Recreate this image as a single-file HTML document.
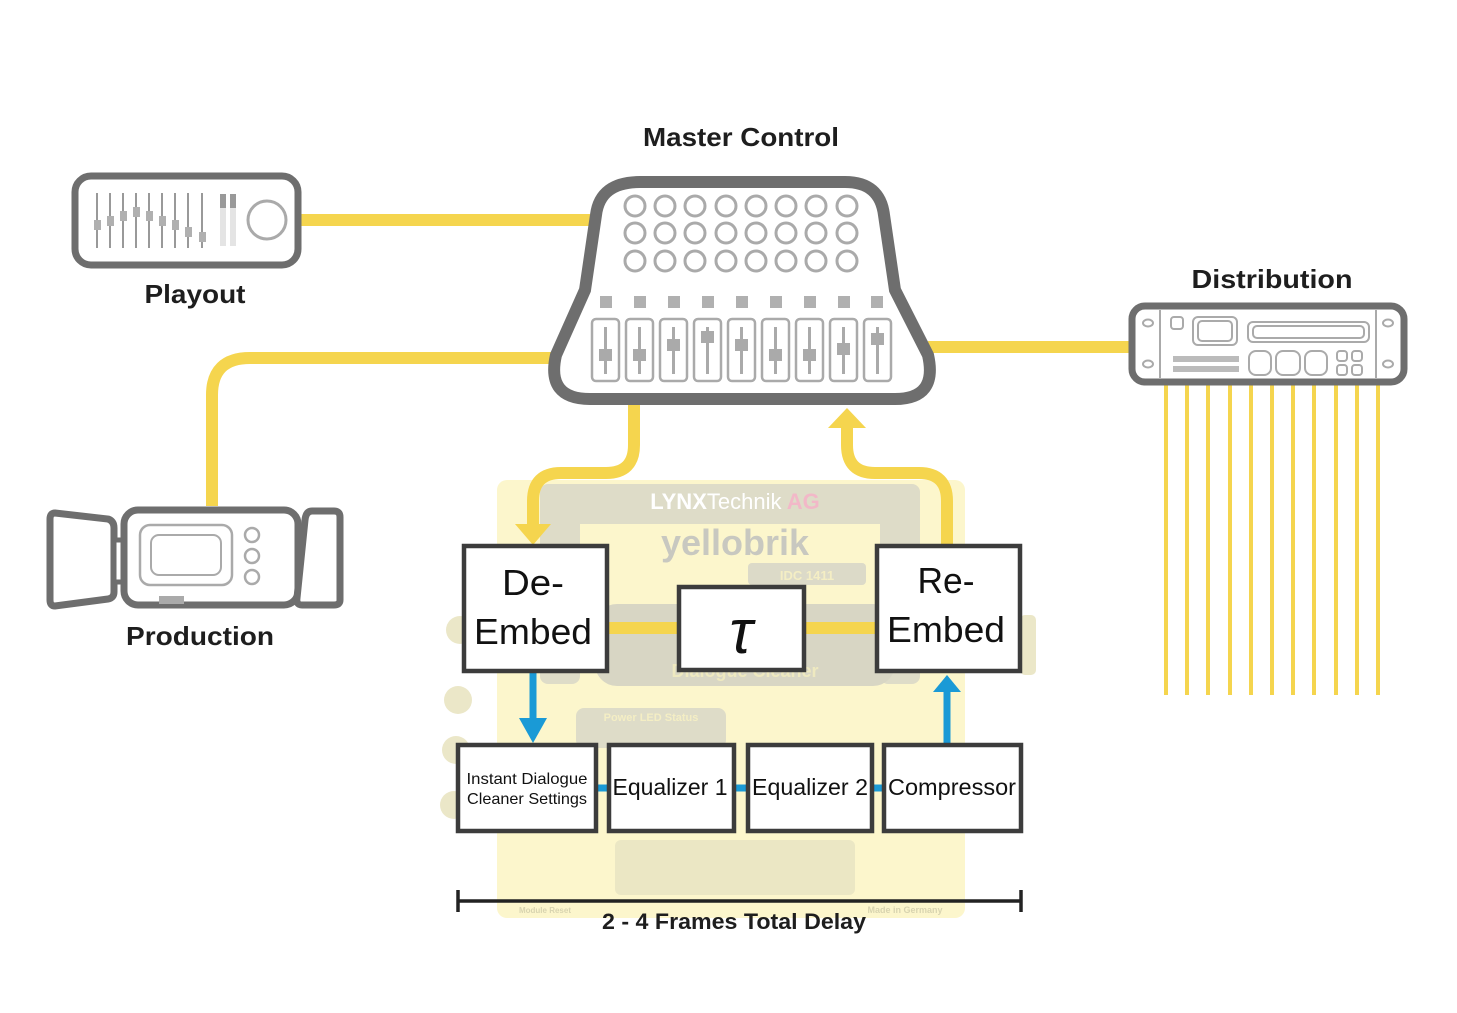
<!DOCTYPE html>
<html><head><meta charset="utf-8"><style>
html,body{margin:0;padding:0;background:#fff;}
svg{display:block;}
text{font-family:"Liberation Sans",sans-serif;}
</style></head><body>
<svg width="1457" height="1013" viewBox="0 0 1457 1013" xmlns="http://www.w3.org/2000/svg">
<!-- yellobrik faded background -->
<g>
<rect x="497" y="480" width="468" height="438" rx="10" fill="#fcf6cc"/>
<rect x="540" y="484" width="380" height="40" rx="10" fill="#dedcc8"/>
<rect x="540" y="484" width="40" height="200" rx="8" fill="#dedcc8"/>
<rect x="880" y="484" width="40" height="200" rx="8" fill="#dedcc8"/>
<text x="735" y="509" font-size="22" font-weight="bold" fill="#fff" text-anchor="middle">LYNX<tspan font-weight="normal">Technik</tspan> <tspan fill="#f2b8c8">AG</tspan></text>
<text x="735" y="555" font-size="36" font-weight="bold" fill="#c8c8c0" text-anchor="middle">yellobrik</text>
<rect x="748" y="563" width="118" height="22" rx="4" fill="#dcdac8"/>
<text x="807" y="580" font-size="13" font-weight="bold" fill="#f4eec4" text-anchor="middle">IDC 1411</text>
<rect x="595" y="604" width="300" height="82" rx="22" fill="#d8d6c4"/>
<text x="745" y="677" font-size="18" font-weight="bold" fill="#eee9c0" text-anchor="middle">Dialogue Cleaner</text>
<rect x="576" y="708" width="150" height="40" rx="8" fill="#dedcc8"/>
<text x="651" y="721" font-size="11" font-weight="bold" fill="#f4eec4" text-anchor="middle">Power LED Status</text>
<g fill="#ebe7c8">
<circle cx="460" cy="630" r="14"/><circle cx="458" cy="700" r="14"/><circle cx="456" cy="750" r="14"/><circle cx="454" cy="805" r="14"/><rect x="1020" y="615" width="16" height="60" rx="5"/>
</g>
<rect x="615" y="840" width="240" height="55" rx="6" fill="#ebe7c4"/>
<text x="905" y="913" font-size="9" font-weight="bold" fill="#d8d4b0" text-anchor="middle">Made in Germany</text>
<text x="545" y="913" font-size="8" font-weight="bold" fill="#d8d4b0" text-anchor="middle">Module Reset</text>
</g>

<!-- yellow connections -->
<g fill="none" stroke="#f5d54e" stroke-width="12">
<line x1="300" y1="220" x2="600" y2="220"/>
<path d="M212 506 L212 395 Q212 358 250 358 L555 358"/>
<line x1="928" y1="347" x2="1132" y2="347"/>
<path d="M634 404 L634 445 Q634 473 606 473 L561 473 Q533 473 533 501 L533 527"/>
<path d="M947 546 L947 501 Q947 473 919 473 L875 473 Q847 473 847 445 L847 425"/>
<line x1="605" y1="628" x2="680" y2="628"/>
<line x1="803" y1="628" x2="879" y2="628"/>
</g>
<polygon points="515,524 551,524 533,545" fill="#f5d54e"/>
<polygon points="828,428 866,428 847,408" fill="#f5d54e"/>
<g stroke="#f5d54e" stroke-width="4">
<line x1="1166" y1="385" x2="1166" y2="695"/><line x1="1187" y1="385" x2="1187" y2="695"/><line x1="1208" y1="385" x2="1208" y2="695"/><line x1="1230" y1="385" x2="1230" y2="695"/><line x1="1251" y1="385" x2="1251" y2="695"/><line x1="1272" y1="385" x2="1272" y2="695"/><line x1="1293" y1="385" x2="1293" y2="695"/><line x1="1314" y1="385" x2="1314" y2="695"/><line x1="1336" y1="385" x2="1336" y2="695"/><line x1="1357" y1="385" x2="1357" y2="695"/><line x1="1378" y1="385" x2="1378" y2="695"/>
</g>

<!-- Master control -->
<path d="M640 182 L845 182 Q880 182 884 215 L895 290 L928 355 Q938 399 895 399 L590 399 Q546 399 556 355 L585 290 L596 215 Q600 182 640 182 Z" fill="#fff" stroke="#6e6e6e" stroke-width="12"/>
<g fill="none" stroke="#aaa" stroke-width="3">
<g id="row"><circle cx="635" cy="206" r="10"/><circle cx="665" cy="206" r="10"/><circle cx="695" cy="206" r="10"/><circle cx="726" cy="206" r="10"/><circle cx="756" cy="206" r="10"/><circle cx="786" cy="206" r="10"/><circle cx="816" cy="206" r="10"/><circle cx="847" cy="206" r="10"/></g>
<use href="#row" y="27"/><use href="#row" y="55"/>
</g>
<g fill="#b0b0b0">
<rect x="600" y="296" width="12" height="12"/><rect x="634" y="296" width="12" height="12"/><rect x="668" y="296" width="12" height="12"/><rect x="702" y="296" width="12" height="12"/><rect x="736" y="296" width="12" height="12"/><rect x="770" y="296" width="12" height="12"/><rect x="804" y="296" width="12" height="12"/><rect x="838" y="296" width="12" height="12"/><rect x="871" y="296" width="12" height="12"/>
</g>
<g id="fad">
<rect x="592" y="319" width="27" height="62" rx="4" fill="none" stroke="#aaa" stroke-width="2.5"/>
<line x1="605.5" y1="327" x2="605.5" y2="374" stroke="#aaa" stroke-width="3"/>
</g>
<use href="#fad" x="34"/><use href="#fad" x="68"/><use href="#fad" x="102"/><use href="#fad" x="136"/><use href="#fad" x="170"/><use href="#fad" x="204"/><use href="#fad" x="238"/><use href="#fad" x="272"/>
<g fill="#aaa">
<rect x="599" y="349" width="13" height="12"/><rect x="633" y="349" width="13" height="12"/><rect x="667" y="339" width="13" height="12"/><rect x="701" y="331" width="13" height="12"/><rect x="735" y="339" width="13" height="12"/><rect x="769" y="349" width="13" height="12"/><rect x="803" y="349" width="13" height="12"/><rect x="837" y="343" width="13" height="12"/><rect x="871" y="333" width="13" height="12"/>
</g>

<!-- Playout -->
<rect x="75" y="176" width="223" height="89" rx="16" fill="#fff" stroke="#6e6e6e" stroke-width="7"/>
<g stroke="#777" stroke-width="1.5">
<line x1="97" y1="193" x2="97" y2="248"/><line x1="110" y1="193" x2="110" y2="248"/><line x1="123" y1="193" x2="123" y2="248"/><line x1="136" y1="193" x2="136" y2="248"/><line x1="149" y1="193" x2="149" y2="248"/><line x1="162" y1="193" x2="162" y2="248"/><line x1="175" y1="193" x2="175" y2="248"/><line x1="188" y1="193" x2="188" y2="248"/><line x1="202" y1="193" x2="202" y2="248"/>
</g>
<g fill="#b0b0b0">
<rect x="94" y="220" width="7" height="10"/><rect x="107" y="216" width="7" height="10"/><rect x="120" y="211" width="7" height="10"/><rect x="133" y="207" width="7" height="10"/><rect x="146" y="211" width="7" height="10"/><rect x="159" y="216" width="7" height="10"/><rect x="172" y="220" width="7" height="10"/><rect x="185" y="227" width="7" height="10"/><rect x="199" y="232" width="7" height="10"/>
<rect x="220" y="194" width="6" height="52" fill="#e4e4e4"/><rect x="230" y="194" width="6" height="52" fill="#e4e4e4"/>
<rect x="220" y="194" width="6" height="14" fill="#999"/><rect x="230" y="194" width="6" height="14" fill="#999"/>
</g>
<circle cx="267" cy="220" r="19" fill="none" stroke="#aaa" stroke-width="3"/>

<!-- Camera -->
<path d="M55 513 L108 519 Q114 521 114 528 L114 592 Q114 598 108 599 L55 606 Q50 606 50 600 L50 519 Q50 513 55 513 Z" fill="#fff" stroke="#6e6e6e" stroke-width="7"/>
<rect x="114" y="540" width="12" height="42" fill="#fff" stroke="#6e6e6e" stroke-width="5"/>
<rect x="124" y="510" width="174" height="95" rx="14" fill="#fff" stroke="#6e6e6e" stroke-width="7"/>
<path d="M312 511 L334 511 Q340 511 340 517 L340 600 Q340 605 334 605 L302 605 Q296 605 297 598 L305 520 Q306 511 312 511 Z" fill="#fff" stroke="#6e6e6e" stroke-width="7"/>
<rect x="140" y="525" width="92" height="60" rx="10" fill="none" stroke="#aaa" stroke-width="2.5"/>
<rect x="151" y="535" width="70" height="40" rx="8" fill="none" stroke="#aaa" stroke-width="2"/>
<g fill="none" stroke="#aaa" stroke-width="2.5"><circle cx="252" cy="535" r="7"/><circle cx="252" cy="556" r="7"/><circle cx="252" cy="577" r="7"/></g>
<rect x="159" y="596" width="25" height="8" fill="#aaa"/>

<!-- Distribution -->
<rect x="1132" y="306" width="272" height="76" rx="13" fill="#fff" stroke="#6e6e6e" stroke-width="7"/>
<g fill="none" stroke="#aaa" stroke-width="2">
<line x1="1160" y1="310" x2="1160" y2="378"/><line x1="1376" y1="310" x2="1376" y2="378"/>
<ellipse cx="1148" cy="323" rx="5" ry="3.5"/><ellipse cx="1148" cy="364" rx="5" ry="3.5"/><ellipse cx="1388" cy="323" rx="5" ry="3.5"/><ellipse cx="1388" cy="364" rx="5" ry="3.5"/>
<rect x="1171" y="317" width="12" height="12" rx="3"/>
<rect x="1193" y="317" width="44" height="28" rx="5"/><rect x="1198" y="321" width="34" height="20" rx="4"/>
<rect x="1248" y="322" width="121" height="20" rx="5"/><rect x="1253" y="326" width="111" height="12" rx="4"/>
<rect x="1249" y="351" width="22" height="24" rx="7"/><rect x="1276" y="351" width="24" height="24" rx="7"/><rect x="1305" y="351" width="22" height="24" rx="7"/>
<rect x="1337" y="351" width="10" height="10" rx="3"/><rect x="1352" y="351" width="10" height="10" rx="3"/><rect x="1337" y="365" width="10" height="10" rx="3"/><rect x="1352" y="365" width="10" height="10" rx="3"/>
</g>
<g fill="#bbb"><rect x="1173" y="356" width="66" height="6"/><rect x="1173" y="366" width="66" height="6"/></g>

<!-- Blue arrows -->
<g stroke="#1a9ad6" stroke-width="7">
<line x1="533" y1="671" x2="533" y2="722"/><line x1="947" y1="744" x2="947" y2="690"/>
<line x1="595" y1="788" x2="610" y2="788"/><line x1="733" y1="788" x2="749" y2="788"/><line x1="871" y1="788" x2="885" y2="788"/>
</g>
<polygon points="519,718 547,718 533,743" fill="#1a9ad6"/>
<polygon points="933,692 961,692 947,675" fill="#1a9ad6"/>

<!-- Boxes -->
<g fill="#fff" stroke="#3c3c3c" stroke-width="4.5">
<rect x="464" y="546" width="143" height="125"/>
<rect x="679" y="587" width="125" height="83"/>
<rect x="877" y="546" width="143" height="125"/>
<rect x="458" y="745" width="138" height="86"/>
<rect x="609" y="745" width="125" height="86"/>
<rect x="748" y="745" width="124" height="86"/>
<rect x="884" y="745" width="137" height="86"/>
</g>
<g fill="#111" text-anchor="middle">
<text x="533" y="595" font-size="36" textLength="62" lengthAdjust="spacingAndGlyphs">De-</text>
<text x="533" y="644" font-size="36" textLength="118" lengthAdjust="spacingAndGlyphs">Embed</text>
<text x="946" y="593" font-size="36" textLength="57" lengthAdjust="spacingAndGlyphs">Re-</text>
<text x="946" y="642" font-size="36" textLength="118" lengthAdjust="spacingAndGlyphs">Embed</text>
<text x="741" y="653" font-size="62" font-family="Liberation Serif" font-style="italic">τ</text>
<text x="527" y="784" font-size="16" textLength="121" lengthAdjust="spacingAndGlyphs">Instant Dialogue</text>
<text x="527" y="804" font-size="16" textLength="120" lengthAdjust="spacingAndGlyphs">Cleaner Settings</text>
<text x="670" y="795" font-size="23" textLength="115" lengthAdjust="spacingAndGlyphs">Equalizer 1</text>
<text x="810" y="795" font-size="23" textLength="116" lengthAdjust="spacingAndGlyphs">Equalizer 2</text>
<text x="952" y="795" font-size="23" textLength="128" lengthAdjust="spacingAndGlyphs">Compressor</text>
</g>

<!-- bracket -->
<g stroke="#222" stroke-width="3.5">
<line x1="458" y1="901" x2="1022" y2="901"/><line x1="458" y1="890" x2="458" y2="912"/><line x1="1021" y1="890" x2="1021" y2="912"/>
</g>

<!-- Labels -->
<g fill="#1e1e1e" font-weight="bold" text-anchor="middle">
<text x="741" y="146" font-size="26" textLength="196" lengthAdjust="spacingAndGlyphs">Master Control</text>
<text x="195" y="303" font-size="26" textLength="101" lengthAdjust="spacingAndGlyphs">Playout</text>
<text x="200" y="645" font-size="26" textLength="148" lengthAdjust="spacingAndGlyphs">Production</text>
<text x="1272" y="288" font-size="26" textLength="161" lengthAdjust="spacingAndGlyphs">Distribution</text>
<text x="734" y="929" font-size="22" textLength="264" lengthAdjust="spacingAndGlyphs">2 - 4 Frames Total Delay</text>
</g>
</svg>
</body></html>
